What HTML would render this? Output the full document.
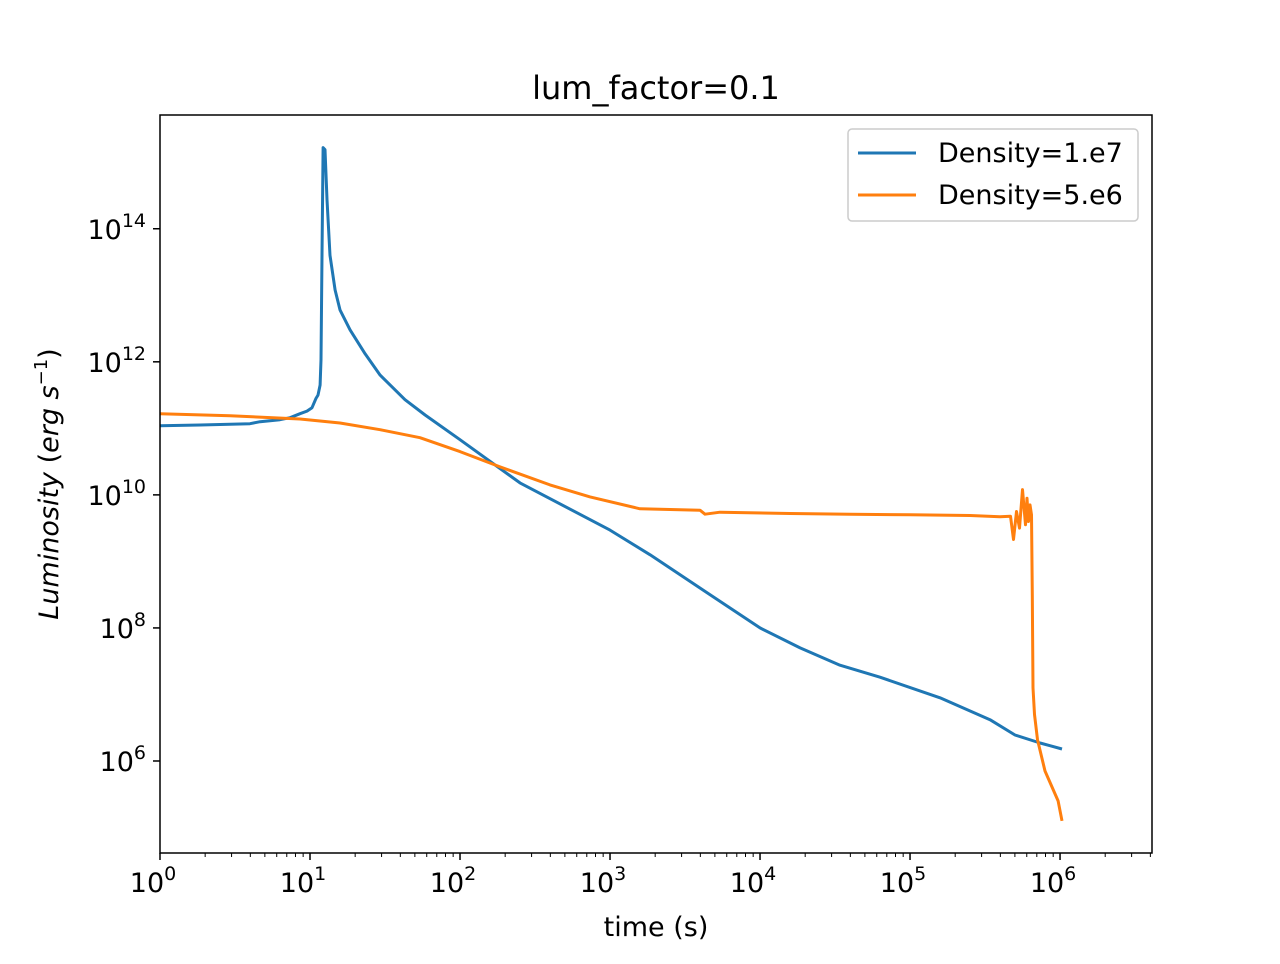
<!DOCTYPE html>
<html><head><meta charset="utf-8"><style>
body{margin:0;background:#fff;font-family:"DejaVu Sans","Liberation Sans",sans-serif;}
svg text{font-family:"DejaVu Sans","Liberation Sans",sans-serif;}
</style></head><body>
<svg id="chart" width="1280" height="960" xmlns="http://www.w3.org/2000/svg">
<rect width="1280" height="960" fill="#fff"/>
<text x="656" y="99" font-size="32" text-anchor="middle">lum_factor=0.1</text>
<g id="ticks"></g>
<g id="lines"></g>
<rect x="160" y="115" width="992" height="738" fill="none" stroke="#000" stroke-width="1.5"/>
<text x="656" y="936" font-size="27" text-anchor="middle">time (s)</text>
<text transform="translate(58,484) rotate(-90)" font-size="27" text-anchor="middle"><tspan font-style="italic">Luminosity</tspan> (<tspan font-style="italic">erg s</tspan><tspan font-size="18" dy="-11">−1</tspan><tspan dy="11">)</tspan></text>
<g>
<rect x="848" y="129" width="290" height="92" rx="4" fill="#fff" stroke="#ccc" stroke-width="1.5"/>
<line x1="858" y1="153" x2="916" y2="153" stroke="#1f77b4" stroke-width="3"/>
<text x="938" y="162" font-size="27">Density=1.e7</text>
<line x1="858" y1="195" x2="916" y2="195" stroke="#ff7f0e" stroke-width="3"/>
<text x="938" y="204" font-size="27">Density=5.e6</text>
</g>
</svg>
<script>
const xTickExps=[0,1,2,3,4,5,6];
const yTickExps=[6,8,10,12,14];
const blueLogT=[0,0.267,0.6,0.667,0.8,0.867,0.933,0.98,1.013,1.04,1.053,1.067,1.073,1.08,1.087,1.1,1.113,1.133,1.167,1.2,1.267,1.367,1.467,1.633,1.767,2,2.4,3,3.267,3.667,4,4.267,4.533,4.8,5.2,5.533,5.7,5.867,5.933,6.013];
const blueLogL=[11.04,11.05,11.07,11.1,11.13,11.16,11.22,11.26,11.31,11.45,11.5,11.65,12.03,13.6,15.22,15.19,14.44,13.6,13.08,12.78,12.48,12.12,11.8,11.43,11.2,10.83,10.18,9.47,9.1,8.5,8.0,7.7,7.44,7.26,6.95,6.62,6.39,6.27,6.23,6.18];
const orangeLogT=[0,0.467,0.933,1.2,1.467,1.733,2,2.267,2.6,2.867,3.2,3.6,3.633,3.733,4.2,4.6,5.0,5.4,5.6,5.67,5.69,5.71,5.73,5.75,5.77,5.78,5.79,5.8,5.81,5.815,5.82,5.83,5.85,5.9,5.987,6.013];
const orangeLogL=[11.22,11.19,11.14,11.08,10.98,10.86,10.65,10.42,10.15,9.97,9.79,9.77,9.71,9.74,9.72,9.71,9.70,9.69,9.67,9.68,9.33,9.75,9.5,10.08,9.55,9.95,9.6,9.85,9.7,8.5,7.1,6.7,6.32,5.85,5.4,5.1];
const xMin=0,xMax=6.613,yMin=4.617,yMax=15.71;
const X=v=>160+(v-xMin)/(xMax-xMin)*992;
const Y=v=>853-(v-yMin)/(yMax-yMin)*738;
const NS="http://www.w3.org/2000/svg";
const tg=document.getElementById('ticks'),lg=document.getElementById('lines');
function mk(tag,attrs,parent){const e=document.createElementNS(NS,tag);for(const k in attrs)e.setAttribute(k,attrs[k]);parent.appendChild(e);return e;}
for(let d=0;d<7;d++){for(let m=1;m<10;m++){const v=d+Math.log10(m);if(v>xMax)break;
 const t=mk('line',{x1:X(v),x2:X(v),y1:853,y2:853+(m==1?7:4),stroke:'#000','stroke-width':m==1?1.5:1},tg);
 
 }}
yTickExps.forEach(e=>{
 const t=mk('line',{x1:160,x2:153,y1:Y(e),y2:Y(e),stroke:'#000','stroke-width':1.5},tg);
 
 });
xTickExps.forEach(e=>{const t=mk('text',{x:X(e)-7,y:892,'font-size':27,'text-anchor':'middle'},tg);
 t.innerHTML='10<tspan font-size="19" dy="-12">'+e+'</tspan>';
 
 });
yTickExps.forEach(e=>{const t=mk('text',{x:146,y:Y(e)+10,'font-size':27,'text-anchor':'end'},tg);
 t.innerHTML='10<tspan font-size="19" dy="-12">'+e+'</tspan>';
 
 });
function path(xs,ys,c,name){const d=xs.map((v,i)=>(i?'L':'M')+X(v).toFixed(1)+','+Y(ys[i]).toFixed(1)).join('');
 const p=mk('path',{d:d,fill:'none',stroke:c,'stroke-width':3,'stroke-linejoin':'round'},lg);
 
 }
path(blueLogT,blueLogL,'#1f77b4','series-density-1e7');
path(orangeLogT,orangeLogL,'#ff7f0e','series-density-5e6');
</script>
</body></html>
